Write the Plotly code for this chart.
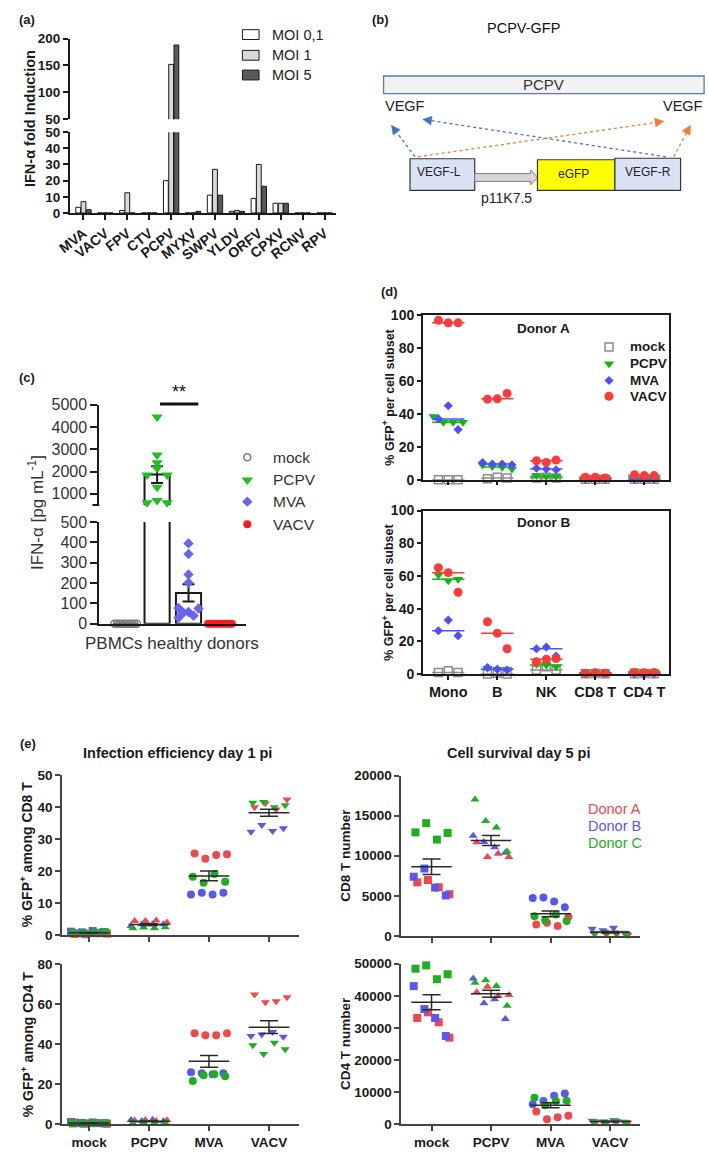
import numpy as np
import plotly.graph_objects as go

W, H = 709, 1158
FONT = "Liberation Sans, Arial, Helvetica, sans-serif"

# ======================= DATA =======================
# (a) IFN-alpha fold induction
a_viruses = ["MVA", "VACV", "FPV", "CTV", "PCPV", "MYXV", "SWPV", "YLDV", "ORFV", "CPXV", "RCNV", "RPV"]
a_moi01 = [3.5, 0, 1.5, 0, 20, 0, 11, 1, 9, 6, 0, 0]
a_moi1 = [7, 0, 12.5, 0, 152, 0, 27, 1.5, 30, 6, 0, 0]
a_moi5 = [2, 0, 0, 0, 188, 1, 11, 1, 16.5, 6, 0, 0]
a_series_names = ["MOI 0,1", "MOI 1", "MOI 5"]

# (c) IFN-alpha pg/mL in PBMCs
c_groups = ["mock", "PCPV", "MVA", "VACV"]
c_mock = [0, 0, 0, 0, 0, 0, 0, 0, 0, 0]
c_pcpv = [4450, 2750, 2400, 2150, 1850, 1850, 1300, 600, 700, 600]
c_mva = [395, 343, 242, 202, 78, 75, 58, 55, 40, 30]
c_vacv = [0, 0, 0, 0, 0, 0, 0, 0, 0, 0]

# (d) % GFP+ per cell subset (rows: Mono, B, NK, CD8 T, CD4 T)
d_subsets = ["Mono", "B", "NK", "CD8 T", "CD4 T"]
d_viruses = ["mock", "PCPV", "MVA", "VACV"]
dA_mock = [[0, 0, 0], [0.5, 1.5, 1], [1, 1.5, 1], [0.2, 0.3, 0.2], [0.2, 0.3, 0.2]]
dA_pcpv = [[38.5, 35, 35, 35], [9, 8, 7.5, 6.5], [2.5, 2, 2], [1, 1, 1.5], [1.5, 2, 1]]
dA_mva = [[37, 45, 30.5], [10.5, 9.5, 9.5, 9], [7, 6.5, 6], [0.3, 0.5, 0.3], [0.3, 0.5, 0.3]]
dA_vacv = [[97, 95.5, 95.5], [49, 49.2, 52.5], [11.5, 10.5, 12], [1.5, 1.5, 1], [3, 2.5, 2.5]]
dB_mock = [[1, 2, 1], [0, 0.5, 0], [2.5, 4.5, 2.5], [0.2, 0.3, 0.2], [0.2, 0.3, 0.2]]
dB_pcpv = [[60.5, 57, 58], [3.5, 3, 3], [6, 5.5, 4.5], [1.5, 1, 1], [2, 1.5, 1.5]]
dB_mva = [[26.5, 33, 23.5], [4, 3, 2.5], [15.5, 16.5, 11], [0.3, 0.2, 0.3], [0.3, 0.2, 0.3]]
dB_vacv = [[65, 62, 50], [32, 25, 15.5], [7.5, 9, 9.5], [0.5, 0.8, 0.5], [1, 0.8, 1]]

# (e) groups x replicates, per donor (A red, B blue, C green)
e_groups = ["mock", "PCPV", "MVA", "VACV"]
e_donors = ["Donor A", "Donor B", "Donor C"]
e_cd8pct_A = [[0.3, 0.2, 0.5, 0.4], [4.3, 4.3, 4.5, 3.9], [25.4, 23.8, 25.0, 25.2], [39.9, 41.1, 39.2, 42.3]]
e_cd8pct_B = [[1.0, 0.8, 1.2, 0.9], [2.8, 3.3, 3.3, 3.3], [12.6, 13.2, 12.6, 13.2], [32.2, 34.3, 32.5, 33.3]]
e_cd8pct_C = [[0.6, 0.5, 0.7, 0.8], [2.1, 2.3, 2.1, 2.4], [18.2, 16.3, 19.0, 16.6], [41.3, 41.5, 39.9, 40.5]]
e_cd4pct_A = [[0.8, 0.3, 0.5, 0.2], [1.8, 2.0, 1.5, 1.9], [45.5, 44.5, 44.5, 45.5], [65, 61, 61.5, 63.5]]
e_cd4pct_B = [[1.0, 0.5, 0.8, 0.4], [2.0, 1.6, 2.2, 1.4], [26, 25.5, 25, 25.5], [44.1, 44.9, 46.1, 43.8]]
e_cd4pct_C = [[0.3, 0.2, 0.5, 0.4], [0.5, 0.8, 0.4, 0.7], [21.6, 24.5, 25, 24], [39.5, 35.1, 40.8, 37.5]]
e_cd8num_A = [[6680, 6970, 6070, 5200], [11680, 9840, 10250, 9840], [1430, 1640, 1230, 2380], [400, 200, 300, 100]]
e_cd8num_B = [[7380, 8400, 6020, 5040], [12500, 11700, 11070, 10370], [4710, 4800, 4300, 3570], [900, 700, 1000, 400]]
e_cd8num_C = [[12910, 14060, 12010, 12830], [17000, 14340, 13520, 10530], [2460, 1930, 2660, 1840], [300, 500, 400, 200]]
e_cd4num_A = [[33090, 34840, 31760, 26950], [41090, 42830, 39960, 40270], [3890, 1540, 2150, 2560], [600, 300, 900, 500]]
e_cd4num_B = [[43030, 35860, 33090, 27460], [45390, 37700, 38930, 32790], [6150, 7170, 8810, 9530], [1000, 800, 1200, 700]]
e_cd4num_C = [[48460, 49490, 45180, 46720], [44060, 44880, 43030, 36890], [8200, 5940, 7170, 7270], [900, 700, 1100, 600]]

# ======================= HELPERS =======================
def xdom(a, b):
    return [a / W, b / W]


def ydom(top, bottom):
    return [1 - bottom / H, 1 - top / H]


annotations = []
shapes = []


def txt(x, y, s, size=12, bold=False, color="#1a1a1a", xanchor="center", angle=0):
    annotations.append(dict(
        x=x / W, y=1 - y / H, xref="paper", yref="paper", text=s, showarrow=False,
        xanchor=xanchor, yanchor="middle", textangle=angle, borderpad=0,
        font=dict(family=FONT, size=size, color=color, weight="bold" if bold else "normal")))


def rect(x0, y0, x1, y1, fill, line, lw=1.0):
    shapes.append(dict(type="rect", xref="paper", yref="paper", x0=x0 / W, x1=x1 / W,
                       y0=1 - y1 / H, y1=1 - y0 / H, fillcolor=fill,
                       line=dict(color=line, width=lw), layer="above"))


def pathshape(points, fill, line, lw=1.0):
    d = "M " + " L ".join(f"{x / W:.5f},{1 - y / H:.5f}" for x, y in points) + " Z"
    shapes.append(dict(type="path", xref="paper", yref="paper", path=d, fillcolor=fill,
                       line=dict(color=line, width=lw), layer="above"))


def segment(x0, y0, x1, y1, color, lw=1.0, dash="solid"):
    shapes.append(dict(type="line", xref="paper", yref="paper", x0=x0 / W, x1=x1 / W,
                       y0=1 - y0 / H, y1=1 - y1 / H, line=dict(color=color, width=lw, dash=dash),
                       layer="above"))


def dotted_arrow(x0, y0, x1, y1, color):
    dx, dy = x1 - x0, y1 - y0
    L = (dx * dx + dy * dy) ** 0.5
    ux, uy = dx / L, dy / L
    hl, hw = 9.0, 4.5
    bx, by = x1 - ux * hl, y1 - uy * hl
    segment(x0, y0, bx, by, color, 1.3, "dot")
    pathshape([(x1, y1), (bx - uy * hw, by + ux * hw), (bx + uy * hw, by - ux * hw)], color, color, 0.5)


def axis(dom, rng, anchor, **kw):
    d = dict(domain=dom, range=rng, anchor=anchor, showgrid=False, zeroline=False,
             fixedrange=True, layer="above traces")
    d.update(kw)
    return d


fig = go.Figure()

# ======================= (a) =======================
A_FILL = ["#ffffff", "#d9d9d9", "#595959"]
a_pos = list(range(len(a_viruses)))
for k, vals in enumerate([a_moi01, a_moi1, a_moi5]):
    for xa, ya in [("x", "y"), ("x2", "y2")]:
        fig.add_trace(go.Bar(x=a_pos, y=vals, width=0.22, offset=-0.35 + 0.24 * k,
                             marker=dict(color=A_FILL[k], line=dict(color="#1a1a1a", width=1)),
                             xaxis=xa, yaxis=ya, showlegend=False, name=a_series_names[k]))

a_line = dict(showline=True, linecolor="#1a1a1a", linewidth=2, ticks="outside", ticklen=5,
              tickwidth=2, tickcolor="#1a1a1a")
a_tickfont = dict(family=FONT, size=13.5, color="#1a1a1a", weight="bold")
xa_a_top = axis(xdom(57, 328), [-0.62, 11.5], "y", showline=False, showticklabels=False, ticks="")
ya_a_top = axis(ydom(31, 113), [50, 200], "x", tickvals=[50, 100, 150, 200], tickfont=a_tickfont, **a_line)
xa_a_bot = axis(xdom(57, 328), [-0.62, 11.5], "y2", tickvals=a_pos, ticktext=a_viruses, tickangle=-38,
                tickfont=dict(family=FONT, size=14, color="#1a1a1a", weight="bold"), **a_line)
ya_a_bot = axis(ydom(126, 208), [0, 50], "x2", tickvals=[0, 10, 20, 30, 40, 50], tickfont=a_tickfont, **a_line)

txt(4, 12, "(a)", 13, True, xanchor="left")
txt(17, 112, "IFN-α fold Induction", 14.5, True, angle=-90)
for k, name in enumerate(a_series_names):
    yc = [27, 48, 68][k]
    rect(233, yc - 5, 250, yc + 5, A_FILL[k], "#1a1a1a", 1)
    txt(262, yc, name, 14.5, False, "#222", xanchor="left")

# ======================= (b) diagram =======================
txt(364, 12, "(b)", 13, True, xanchor="left")
txt(520, 20, "PCPV-GFP", 14.5, False, "#111")
rect(377, 69, 704, 87, "#f2f2f2", "#5b7ca6", 1.3)
txt(540, 78, "PCPV", 15, False, "#333")
txt(377, 99, "VEGF", 14.5, False, "#222", xanchor="left")
txt(704, 99, "VEGF", 14.5, False, "#222", xanchor="right")
dotted_arrow(409, 151, 385, 119, "#4472c4")
dotted_arrow(665, 151, 417, 113, "#4472c4")
dotted_arrow(412, 151, 663, 115, "#ed7d31")
dotted_arrow(673, 151, 690, 119, "#ed7d31")
rect(404, 153, 470, 185, "#dae3f3", "#2f3640", 1.2)
pathshape([(470, 168), (527, 168), (527, 164.5), (534.5, 172), (527, 179.5), (527, 176), (470, 176)],
          "#d6d6d6", "#7f7f7f", 1)
rect(534, 154, 613, 185, "#ffff00", "#2f3640", 1.2)
rect(613, 152.5, 680, 185, "#dae3f3", "#2f3640", 1.2)
txt(434, 166, "VEGF-L", 12, False, "#222")
txt(571, 168, "eGFP", 12, False, "#222")
txt(647, 166, "VEGF-R", 12, False, "#222")
txt(502, 193, "p11K7.5", 14, False, "#222")

# ======================= (c) =======================
c_data = [c_mock, c_pcpv, c_mva, c_vacv]
c_mean = [float(np.mean(v)) for v in c_data]
c_sem = [float(np.std(v, ddof=1) / np.sqrt(len(v))) for v in c_data]
c_pos = list(range(len(c_groups)))
for xa, ya in [("x3", "y3"), ("x4", "y4")]:
    fig.add_trace(go.Bar(x=c_pos, y=c_mean, width=0.8,
                         marker=dict(color="#ffffff", line=dict(color="#1a1a1a", width=2)),
                         error_y=dict(type="data", array=c_sem, color="#1a1a1a", thickness=2, width=6),
                         xaxis=xa, yaxis=ya, showlegend=False))

C_STYLE = [
    dict(symbol="circle-open", color="#7a7a7a", size=7, line=dict(width=1.5, color="#7a7a7a")),
    dict(symbol="triangle-down", color="#1fbf1f", size=10),
    dict(symbol="diamond", color="#6565f2", size=8),
    dict(symbol="circle", color="#ff1a1a", size=8),
]
c_dx = [
    list(np.linspace(-0.36, 0.36, 10)),
    [0, 0, 0, 0, -0.32, 0.32, 0, -0.32, 0, 0.32],
    [0, 0, 0, 0, -0.32, 0.32, 0, -0.16, 0.16, -0.32],
    list(np.linspace(-0.38, 0.38, 10)),
]
for i, vals in enumerate(c_data):
    xs = [i + d for d in c_dx[i]]
    hi = [(x, v) for x, v in zip(xs, vals) if v >= 500]
    lo = [(x, v) for x, v in zip(xs, vals) if v < 500]
    for pts, xa, ya in [(hi, "x3", "y3"), (lo, "x4", "y4")]:
        if pts:
            fig.add_trace(go.Scatter(x=[p[0] for p in pts], y=[p[1] for p in pts], mode="markers",
                                     marker=C_STYLE[i], cliponaxis=False, xaxis=xa, yaxis=ya,
                                     showlegend=False))

c_tickfont = dict(family=FONT, size=16, color="#333")
c_line = dict(showline=True, linecolor="#1a1a1a", linewidth=2, ticks="outside", ticklen=7,
              tickwidth=2, tickcolor="#1a1a1a")
xa_c_top = axis(xdom(87, 237), [-0.84, 3.84], "y3", visible=False)
ya_c_top = axis(ydom(402.7, 504.4), [500, 5000], "x3", tickvals=[1000, 2000, 3000, 4000, 5000],
                tickfont=c_tickfont, **c_line)
xa_c_bot = axis(xdom(87, 237), [-0.84, 3.84], "y4", showline=True, linecolor="#1a1a1a", linewidth=2,
                ticks="", showticklabels=False)
ya_c_bot = axis(ydom(521.7, 625), [0, 500], "x4", tickvals=[0, 100, 200, 300, 400, 500],
                tickfont=c_tickfont, **c_line)
segment(80, 504.4, 87, 504.4, "#1a1a1a", 2)  # break tick at the bottom of the upper segment

txt(4, 375, "(c)", 13, True, xanchor="left")
txt(168, 390, "**", 18, False, "#111")
segment(149, 402, 188, 402, "#111", 3)
txt(23, 512, "IFN-α [pg mL<sup>-1</sup>]", 17, False, "#333", angle=-90)
txt(161, 645, "PBMCs healthy donors", 17, False, "#333")
for i, g in enumerate(c_groups):
    yc = [456, 479, 501, 524][i]
    fig.add_trace(go.Scatter(x=[238], y=[yc], mode="markers", marker=C_STYLE[i], xaxis="x11", yaxis="y11",
                             showlegend=False, cliponaxis=False))
    txt(263, yc, g, 15.5, False, "#333", xanchor="left")

# ======================= (d) =======================
D_STYLE = [
    dict(symbol="square-open", color="#8c8c8c", size=8, line=dict(width=1.5, color="#8c8c8c")),
    dict(symbol="triangle-down", color="#11b811", size=9),
    dict(symbol="diamond", color="#4e4eff", size=7),
    dict(symbol="circle", color="#ff3a3a", size=9),
]
D_LINE = ["#8c8c8c", "#11b811", "#4e4eff", "#ff3a3a"]


def spread(n):
    half = 0.1 * (n - 1)
    return list(np.linspace(-half, half, n))


for (xa, ya), donor in [(("x5", "y5"), [dA_mock, dA_pcpv, dA_mva, dA_vacv]),
                        (("x6", "y6"), [dB_mock, dB_pcpv, dB_mva, dB_vacv])]:
    for v, per_subset in enumerate(donor):
        xs, ys, lx, ly = [], [], [], []
        for s, vals in enumerate(per_subset):
            xs += [s + d for d in spread(len(vals))]
            ys += vals
            med = float(np.median(vals))
            lx += [s - 0.33, s + 0.33, None]
            ly += [med, med, None]
        fig.add_trace(go.Scatter(x=lx, y=ly, mode="lines", line=dict(color=D_LINE[v], width=1.5),
                                 xaxis=xa, yaxis=ya, showlegend=False, cliponaxis=False))
        fig.add_trace(go.Scatter(x=xs, y=ys, mode="markers", marker=D_STYLE[v], xaxis=xa, yaxis=ya,
                                 showlegend=False, cliponaxis=False))

d_frame = dict(showline=True, mirror=True, linecolor="#1a1a1a", linewidth=1.5, ticks="outside",
               ticklen=4, tickwidth=1.5, tickcolor="#1a1a1a")
d_ytf = dict(family=FONT, size=14, color="#1a1a1a", weight="bold")
d_pos = list(range(len(d_subsets)))
xa_d_top = axis(xdom(417, 668), [-0.52, 4.5], "y5", tickvals=d_pos, showticklabels=False, **d_frame)
ya_d_top = axis(ydom(312, 478.7), [0, 100], "x5", tickvals=[0, 20, 40, 60, 80, 100], tickfont=d_ytf, **d_frame)
xa_d_bot = axis(xdom(417, 668), [-0.52, 4.5], "y6", tickvals=d_pos, ticktext=d_subsets,
                tickfont=dict(family=FONT, size=14.5, color="#1a1a1a", weight="bold"), **d_frame)
ya_d_bot = axis(ydom(510, 676), [0, 100], "x6", tickvals=[0, 20, 40, 60, 80, 100], tickfont=d_ytf, **d_frame)

txt(373, 288, "(d)", 13, True, xanchor="left")
txt(540, 325, "Donor A", 13.5, True)
txt(540, 522, "Donor B", 13.5, True)
txt(382, 395, "% GFP<sup>+</sup> per cell subset", 12.5, True, angle=-90)
txt(382, 593, "% GFP<sup>+</sup> per cell subset", 12.5, True, angle=-90)
for i, g in enumerate(d_viruses):
    yc = [344, 361, 378, 394][i]
    fig.add_trace(go.Scatter(x=[607], y=[yc], mode="markers", marker=D_STYLE[i], xaxis="x11", yaxis="y11",
                             showlegend=False, cliponaxis=False))
    txt(627, yc, g, 13.5, True, xanchor="left")

# ======================= (e) =======================
E_COL = ["#f04848", "#5858f0", "#1fae1f"]
E_SYM = ["square", "triangle-up", "circle", "triangle-down"]
E_DX = [-0.27, -0.09, 0.09, 0.27]
E_SHIFT = [0.03, -0.03, 0.0]

e_panels = [
    ("x7", "y7", [e_cd8pct_A, e_cd8pct_B, e_cd8pct_C]),
    ("x8", "y8", [e_cd4pct_A, e_cd4pct_B, e_cd4pct_C]),
    ("x9", "y9", [e_cd8num_A, e_cd8num_B, e_cd8num_C]),
    ("x10", "y10", [e_cd4num_A, e_cd4num_B, e_cd4num_C]),
]
for xa, ya, donors in e_panels:
    for g in range(len(e_groups)):
        for d, dvals in enumerate(donors):
            vals = dvals[g]
            fig.add_trace(go.Scatter(x=[g + E_SHIFT[d] + dx for dx in E_DX], y=vals, mode="markers",
                                     marker=dict(symbol=E_SYM[g], color=E_COL[d], size=8),
                                     xaxis=xa, yaxis=ya, showlegend=False, cliponaxis=False))
    means, sems, lx, ly = [], [], [], []
    for g in range(len(e_groups)):
        allv = [v for dvals in donors for v in dvals[g]]
        m = float(np.mean(allv))
        means.append(m)
        sems.append(float(np.std(allv, ddof=1) / np.sqrt(len(allv))))
        lx += [g - 0.34, g + 0.34, None]
        ly += [m, m, None]
    fig.add_trace(go.Scatter(x=lx, y=ly, mode="lines", line=dict(color="#2a2a2a", width=1.5),
                             xaxis=xa, yaxis=ya, showlegend=False, cliponaxis=False))
    fig.add_trace(go.Scatter(x=list(range(len(e_groups))), y=means, mode="markers",
                             marker=dict(size=1, color="rgba(0,0,0,0)"),
                             error_y=dict(type="data", array=sems, color="#2a2a2a", thickness=1.5, width=9),
                             xaxis=xa, yaxis=ya, showlegend=False, cliponaxis=False))

e_line = dict(showline=True, linecolor="#444", linewidth=1.5, ticks="outside", ticklen=5,
              tickwidth=1.5, tickcolor="#444")
e_tf = dict(family=FONT, size=13.5, color="#1a1a1a", weight="bold")
e_pos = list(range(len(e_groups)))
xa_e_tl = axis(xdom(49, 290.7), [-0.45, 3.5], "y7", tickvals=e_pos, showticklabels=False, **e_line)
ya_e_tl = axis(ydom(778.3, 940.7), [0, 50], "x7", tickvals=[0, 10, 20, 30, 40, 50], tickfont=e_tf, **e_line)
xa_e_bl = axis(xdom(49, 290.7), [-0.45, 3.5], "y8", tickvals=e_pos, ticktext=e_groups, tickfont=e_tf, **e_line)
ya_e_bl = axis(ydom(970.7, 1132.7), [0, 80], "x8", tickvals=[0, 20, 40, 60, 80], tickfont=e_tf, **e_line)
xa_e_tr = axis(xdom(395, 639), [-0.51, 3.51], "y9", tickvals=e_pos, showticklabels=False, **e_line)
ya_e_tr = axis(ydom(779, 941.7), [0, 20000], "x9", tickvals=[0, 5000, 10000, 15000, 20000],
               ticktext=["0", "5000", "10000", "15000", "20000"], tickfont=e_tf, **e_line)
xa_e_br = axis(xdom(395, 639), [-0.51, 3.51], "y10", tickvals=e_pos, ticktext=e_groups, tickfont=e_tf, **e_line)
ya_e_br = axis(ydom(970, 1132.7), [0, 50000], "x10", tickvals=[0, 10000, 20000, 30000, 40000, 50000],
               ticktext=["0", "10000", "20000", "30000", "40000", "50000"], tickfont=e_tf, **e_line)

txt(5, 746, "(e)", 13, True, xanchor="left")
txt(167, 756, "Infection efficiency day 1 pi", 14.5, True)
txt(515, 756, "Cell survival day 5 pi", 14.5, True)
txt(13, 859, "% GFP<sup>+</sup> among CD8 T", 14, True, angle=-90)
txt(13, 1052, "% GFP<sup>+</sup> among CD4 T", 14, True, angle=-90)
txt(338, 860, "CD8 T number", 13.5, True, angle=-90)
txt(338, 1051, "CD4 T number", 13.5, True, angle=-90)
for d, name in enumerate(e_donors):
    txt(585, [813, 830, 847][d], name, 14.5, False, E_COL[d], xanchor="left")

# overlay axis for legend keys (pixel coordinates)
xa_ov = axis([0, 1], [0, W], "y11", visible=False)
ya_ov = axis([0, 1], [H, 0], "x11", visible=False)

fig.update_layout(
    width=W, height=H, margin=dict(l=0, r=0, t=0, b=0), autosize=False,
    paper_bgcolor="white", plot_bgcolor="rgba(0,0,0,0)", showlegend=False, barmode="overlay",
    font=dict(family=FONT, color="#1a1a1a"),
    xaxis=xa_a_top, yaxis=ya_a_top, xaxis2=xa_a_bot, yaxis2=ya_a_bot,
    xaxis3=xa_c_top, yaxis3=ya_c_top, xaxis4=xa_c_bot, yaxis4=ya_c_bot,
    xaxis5=xa_d_top, yaxis5=ya_d_top, xaxis6=xa_d_bot, yaxis6=ya_d_bot,
    xaxis7=xa_e_tl, yaxis7=ya_e_tl, xaxis8=xa_e_bl, yaxis8=ya_e_bl,
    xaxis9=xa_e_tr, yaxis9=ya_e_tr, xaxis10=xa_e_br, yaxis10=ya_e_br,
    xaxis11=xa_ov, yaxis11=ya_ov,
    annotations=annotations, shapes=shapes,
)

fig.write_html("out.html", config={"displayModeBar": False},
               post_script="document.body.style.margin='0';document.body.style.overflow='hidden';")
